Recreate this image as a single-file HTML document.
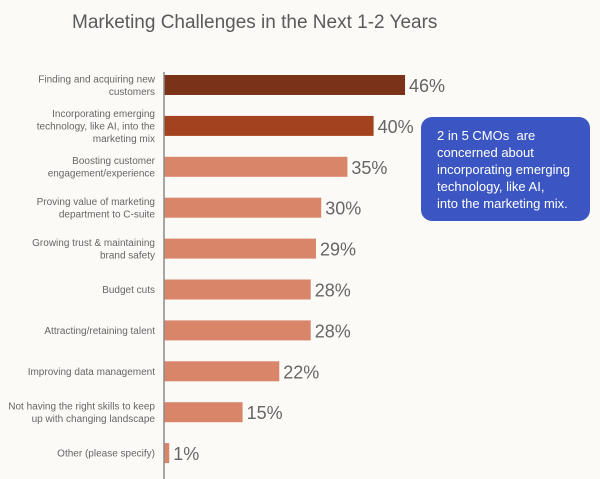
<!DOCTYPE html>
<html><head><meta charset="utf-8"><style>
body{margin:0;width:600px;height:479px;background:#fbfaf6;font-family:"Liberation Sans",sans-serif;overflow:hidden;position:relative}
.title{position:absolute;left:72px;top:12px;font-size:19px;color:#5a5a5a}
.callout{position:absolute;left:421px;top:117px;width:169px;height:104px;background:#3b56c2;border-radius:11px;color:#fff;font-size:13px;line-height:17px;box-sizing:border-box;padding:10px 0 0 16px}
</style></head><body>
<div class="title">Marketing Challenges in the Next 1-2 Years</div>
<svg id="chart" width="600" height="479" style="position:absolute;left:0;top:0"></svg>
<div class="callout">2 in 5 CMOs&nbsp; are<br>concerned about<br>incorporating emerging<br>technology, like AI,<br>into the marketing mix.</div>
<script>
const categories=[["Finding and acquiring new","customers"],["Incorporating emerging","technology, like AI, into the","marketing mix"],["Boosting customer","engagement/experience"],["Proving value of marketing","department to C-suite"],["Growing trust & maintaining","brand safety"],["Budget cuts"],["Attracting/retaining talent"],["Improving data management"],["Not having the right skills to keep","up with changing landscape"],["Other (please specify)"]];
const values=[46,40,35,30,29,28,28,22,15,1];
const valueLabels=["46%","40%","35%","30%","29%","28%","28%","22%","15%","1%"];
const colors=["#7a3219","#a3421f","#d9856a","#d9856a","#d9856a","#d9856a","#d9856a","#d9856a","#d9856a","#d9856a"];
const svg=document.getElementById('chart');
const NS='http://www.w3.org/2000/svg';
const x0=164, pxPer=5.24, y0=85, step=40.9, bh=20;
const xs=v=>x0+v*pxPer;
const ys=i=>y0+i*step;
function mk(t,a){const e=document.createElementNS(NS,t);for(const k in a)e.setAttribute(k,a[k]);svg.appendChild(e);return e;}
values.forEach((v,i)=>{
 const r=mk('rect',{x:x0,y:ys(i)-bh/2,width:xs(v)-x0,height:bh,fill:colors[i]});
 
 
 const t=mk('text',{x:xs(v)+4,y:ys(i)+7,'font-size':18,fill:'#666','font-family':'Liberation Sans, sans-serif'});
 t.textContent=valueLabels[i];
 
 
 const lines=categories[i];const lh=12.5;
 const l=mk('text',{x:155,'text-anchor':'end','font-size':10,fill:'#666','font-family':'Liberation Sans, sans-serif'});
 
 
 lines.forEach((s,j)=>{const ts=document.createElementNS(NS,'tspan');ts.setAttribute('x',155);ts.setAttribute('y',ys(i)+3.5+(j-(lines.length-1)/2)*lh);ts.textContent=s;l.appendChild(ts);});
});
const ax=mk('line',{x1:x0,x2:x0,y1:72,y2:479,stroke:'#8a8a8a','stroke-width':1.5});


</script>
</body></html>
